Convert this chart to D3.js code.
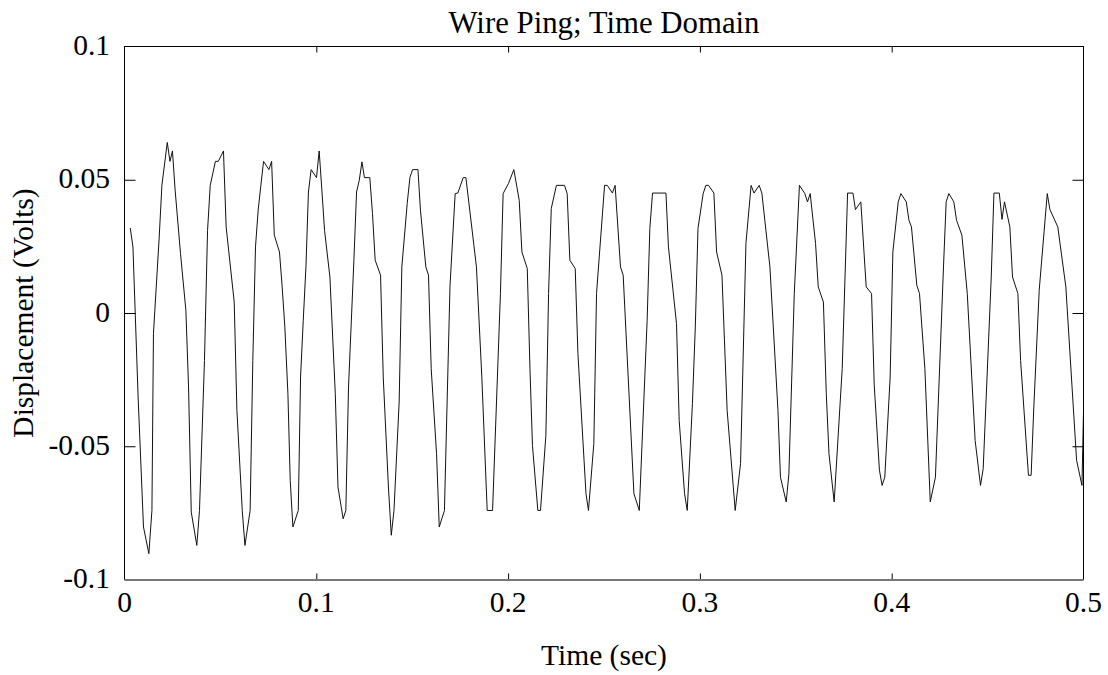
<!DOCTYPE html>
<html>
<head>
<meta charset="utf-8">
<script src="https://cdn.jsdelivr.net/npm/d3@7"></script>
<style>
  html, body { margin: 0; padding: 0; background: #fff; }
  svg { display: block; }
  text { font-family: "Liberation Serif", "Times New Roman", Times, serif; fill: #000; }
</style>
</head>
<body>
<svg id="chart" width="1108" height="675"></svg>
<script>
// Sampled wire displacement after the ping (seconds, volts)
const timeSec = [
  0.0030, 0.0044, 0.0071, 0.0099, 0.0127, 0.0143, 0.0151, 0.0181, 0.0195, 0.0223,
  0.0237, 0.0250, 0.0264, 0.0292, 0.0320, 0.0334, 0.0348, 0.0377, 0.0391, 0.0417,
  0.0433, 0.0447, 0.0474, 0.0489, 0.0516, 0.0530, 0.0572, 0.0586, 0.0614, 0.0628,
  0.0655, 0.0669, 0.0683, 0.0697, 0.0711, 0.0725, 0.0753, 0.0767, 0.0781, 0.0808,
  0.0822, 0.0836, 0.0852, 0.0864, 0.0878, 0.0906, 0.0918, 0.0932, 0.0946, 0.0959,
  0.0973, 0.1001, 0.1015, 0.1029, 0.1043, 0.1071, 0.1099, 0.1113, 0.1140, 0.1154,
  0.1168, 0.1196, 0.1210, 0.1224, 0.1238, 0.1251, 0.1279, 0.1293, 0.1307, 0.1335,
  0.1349, 0.1376, 0.1391, 0.1405, 0.1432, 0.1446, 0.1474, 0.1488, 0.1502, 0.1530,
  0.1543, 0.1571, 0.1585, 0.1599, 0.1627, 0.1641, 0.1668, 0.1697, 0.1724, 0.1738,
  0.1766, 0.1780, 0.1835, 0.1863, 0.1891, 0.1919, 0.1960, 0.1974, 0.2002, 0.2030,
  0.2058, 0.2072, 0.2100, 0.2114, 0.2127, 0.2155, 0.2169, 0.2197, 0.2211, 0.2225,
  0.2252, 0.2294, 0.2308, 0.2322, 0.2350, 0.2364, 0.2406, 0.2419, 0.2447, 0.2461,
  0.2503, 0.2517, 0.2544, 0.2558, 0.2586, 0.2600, 0.2656, 0.2684, 0.2725, 0.2739,
  0.2753, 0.2823, 0.2836, 0.2878, 0.2892, 0.2920, 0.2934, 0.2961, 0.2976, 0.2990,
  0.3017, 0.3031, 0.3045, 0.3073, 0.3087, 0.3115, 0.3142, 0.3184, 0.3212, 0.3240,
  0.3267, 0.3282, 0.3309, 0.3323, 0.3365, 0.3407, 0.3420, 0.3450, 0.3464, 0.3492,
  0.3519, 0.3547, 0.3561, 0.3575, 0.3603, 0.3617, 0.3644, 0.3659, 0.3673, 0.3700,
  0.3742, 0.3770, 0.3798, 0.3811, 0.3839, 0.3867, 0.3895, 0.3909, 0.3936, 0.3950,
  0.3964, 0.3992, 0.4006, 0.4034, 0.4048, 0.4076, 0.4090, 0.4103, 0.4131, 0.4145,
  0.4173, 0.4201, 0.4228, 0.4270, 0.4284, 0.4298, 0.4324, 0.4338, 0.4366, 0.4394,
  0.4435, 0.4463, 0.4477, 0.4519, 0.4533, 0.4561, 0.4575, 0.4588, 0.4616, 0.4630,
  0.4658, 0.4672, 0.4713, 0.4727, 0.4741, 0.4769, 0.4811, 0.4825, 0.4866, 0.4908,
  0.4964, 0.4992, 0.5000
];
const voltage = [
   0.0319,  0.0248, -0.0315, -0.0803, -0.0903, -0.0741, -0.0077,  0.0285,  0.0479,  0.0640,
   0.0569,  0.0608,  0.0461,  0.0223,  0.0010, -0.0278, -0.0747, -0.0872, -0.0741, -0.0178,
   0.0310,  0.0479,  0.0569,  0.0569,  0.0608,  0.0323,  0.0041, -0.0365, -0.0741, -0.0872,
  -0.0741, -0.0178,  0.0248,  0.0386,  0.0479,  0.0569,  0.0538,  0.0569,  0.0292,  0.0229,
   0.0098, -0.0053, -0.0303, -0.0628, -0.0803, -0.0741, -0.0240, -0.0027,  0.0173,  0.0454,
   0.0538,  0.0508,  0.0608,  0.0461,  0.0310,  0.0135, -0.0303, -0.0653, -0.0772, -0.0741,
  -0.0278,  0.0198,  0.0454,  0.0498,  0.0567,  0.0508,  0.0508,  0.0373,  0.0198,  0.0142,
  -0.0240, -0.0653, -0.0834, -0.0741, -0.0334,  0.0173,  0.0411,  0.0508,  0.0538,  0.0538,
   0.0386,  0.0173,  0.0142, -0.0209, -0.0528, -0.0803, -0.0741,  0.0100,  0.0448,  0.0450,
   0.0508,  0.0508,  0.0173, -0.0240, -0.0741, -0.0741,  0.0073,  0.0448,  0.0486,  0.0538,
   0.0423,  0.0229,  0.0167, -0.0209, -0.0497, -0.0741, -0.0741, -0.0459,  0.0073,  0.0392,
   0.0479,  0.0479,  0.0448,  0.0198,  0.0167, -0.0152, -0.0678, -0.0741, -0.0490,  0.0073,
   0.0479,  0.0479,  0.0450,  0.0479,  0.0173,  0.0142, -0.0678, -0.0741, -0.0027,  0.0317,
   0.0450,  0.0450,  0.0248, -0.0040, -0.0403, -0.0678, -0.0741, -0.0340, -0.0053,  0.0317,
   0.0448,  0.0479,  0.0479,  0.0450,  0.0229,  0.0142, -0.0365, -0.0741, -0.0565,  0.0261,
   0.0479,  0.0450,  0.0479,  0.0450,  0.0173, -0.0365, -0.0616, -0.0709, -0.0603,  0.0073,
   0.0479,  0.0448,  0.0417,  0.0448,  0.0261,  0.0098,  0.0041, -0.0303, -0.0528, -0.0709,
  -0.0209,  0.0450,  0.0450,  0.0388,  0.0417,  0.0098,  0.0073, -0.0271, -0.0590, -0.0647,
  -0.0616, -0.0240,  0.0229,  0.0417,  0.0448,  0.0417,  0.0348,  0.0323,  0.0104,  0.0073,
  -0.0209, -0.0709, -0.0616,  0.0173,  0.0417,  0.0448,  0.0417,  0.0348,  0.0292,  0.0073,
  -0.0478, -0.0647, -0.0584,  0.0135,  0.0450,  0.0450,  0.0351,  0.0417,  0.0323,  0.0135,
   0.0073, -0.0178, -0.0609, -0.0609, -0.0353,  0.0085,  0.0448,  0.0388,  0.0323,  0.0098,
  -0.0553, -0.0647, -0.0370
];

const xTicks = [0, 0.1, 0.2, 0.3, 0.4, 0.5];
const xTickLabels = ["0", "0.1", "0.2", "0.3", "0.4", "0.5"];
const yTicks = [-0.1, -0.05, 0, 0.05, 0.1];
const yTickLabels = ["-0.1", "-0.05", "0", "0.05", "0.1"];

const titleText = "Wire Ping; Time Domain";
const xTitle = "Time (sec)";
const yTitle = "Displacement (Volts)";

// Layout
const W = 1108, H = 675;
const plot = { left: 124.5, right: 1083.5, top: 46.5, bottom: 579.5 };
const fontSize = 29.5;
const titleSize = 30.8;

const svg = d3.select("#chart");

const x = d3.scaleLinear().domain([0, 0.5]).range([plot.left, plot.right]);
const y = d3.scaleLinear().domain([-0.1, 0.1]).range([plot.bottom, plot.top]);

// Clip the trace to the axes box
svg.append("defs").append("clipPath").attr("id", "plot-clip")
  .append("rect")
  .attr("x", plot.left).attr("y", plot.top)
  .attr("width", plot.right - plot.left).attr("height", plot.bottom - plot.top);

// Signal trace
const points = timeSec.map((t, i) => [t, voltage[i]]);
svg.append("path")
  .datum(points)
  .attr("clip-path", "url(#plot-clip)")
  .attr("fill", "none")
  .attr("stroke", "#111")
  .attr("stroke-width", 1)
  .attr("stroke-linejoin", "miter")
  .attr("d", d3.line().x(d => x(d[0])).y(d => y(d[1])));

// Inner ticks on all four sides of the box
const tickStyle = g => {
  g.select(".domain").remove();
  g.selectAll(".tick line").attr("stroke", "#000").attr("stroke-width", 1);
};

const innerX = xTicks.filter(v => v > 0 && v < 0.5);
const innerY = yTicks.filter(v => v > -0.1 && v < 0.1);

svg.append("g")
  .attr("transform", `translate(0,${plot.bottom})`)
  .call(d3.axisBottom(x).tickValues(innerX).tickSize(-6).tickFormat(""))
  .call(tickStyle);
svg.append("g")
  .attr("transform", `translate(0,${plot.top})`)
  .call(d3.axisTop(x).tickValues(innerX).tickSize(-6).tickFormat(""))
  .call(tickStyle);
svg.append("g")
  .attr("transform", `translate(${plot.left},0)`)
  .call(d3.axisLeft(y).tickValues(innerY).tickSize(-11).tickFormat(""))
  .call(tickStyle);
svg.append("g")
  .attr("transform", `translate(${plot.right},0)`)
  .call(d3.axisRight(y).tickValues(innerY).tickSize(-11).tickFormat(""))
  .call(tickStyle);

// Axes box
svg.append("rect")
  .attr("x", plot.left).attr("y", plot.top)
  .attr("width", plot.right - plot.left).attr("height", plot.bottom - plot.top)
  .attr("fill", "none").attr("stroke", "#000").attr("stroke-width", 1);
svg.append("line")
  .attr("x1", plot.left).attr("x2", plot.right)
  .attr("y1", plot.bottom + 0.5).attr("y2", plot.bottom + 0.5)
  .attr("stroke", "#777").attr("stroke-width", 2);

// Tick labels
svg.append("g").selectAll("text")
  .data(xTicks)
  .join("text")
  .attr("x", d => x(d))
  .attr("y", plot.bottom + 32)
  .attr("text-anchor", "middle")
  .attr("font-size", fontSize)
  .text((d, i) => xTickLabels[i]);

svg.append("g").selectAll("text")
  .data(yTicks)
  .join("text")
  .attr("x", plot.left - 14.5)
  .attr("y", d => y(d) + 8.5)
  .attr("text-anchor", "end")
  .attr("font-size", fontSize)
  .text((d, i) => yTickLabels[i]);

// Titles
const cx = (plot.left + plot.right) / 2;
svg.append("text")
  .attr("x", cx).attr("y", 33)
  .attr("text-anchor", "middle")
  .attr("font-size", titleSize)
  .text(titleText);

svg.append("text")
  .attr("x", cx).attr("y", 665)
  .attr("text-anchor", "middle")
  .attr("font-size", fontSize)
  .text(xTitle);

svg.append("text")
  .attr("transform", `translate(33,${(plot.top + plot.bottom) / 2}) rotate(-90)`)
  .attr("text-anchor", "middle")
  .attr("font-size", fontSize)
  .text(yTitle);
</script>
</body>
</html>
